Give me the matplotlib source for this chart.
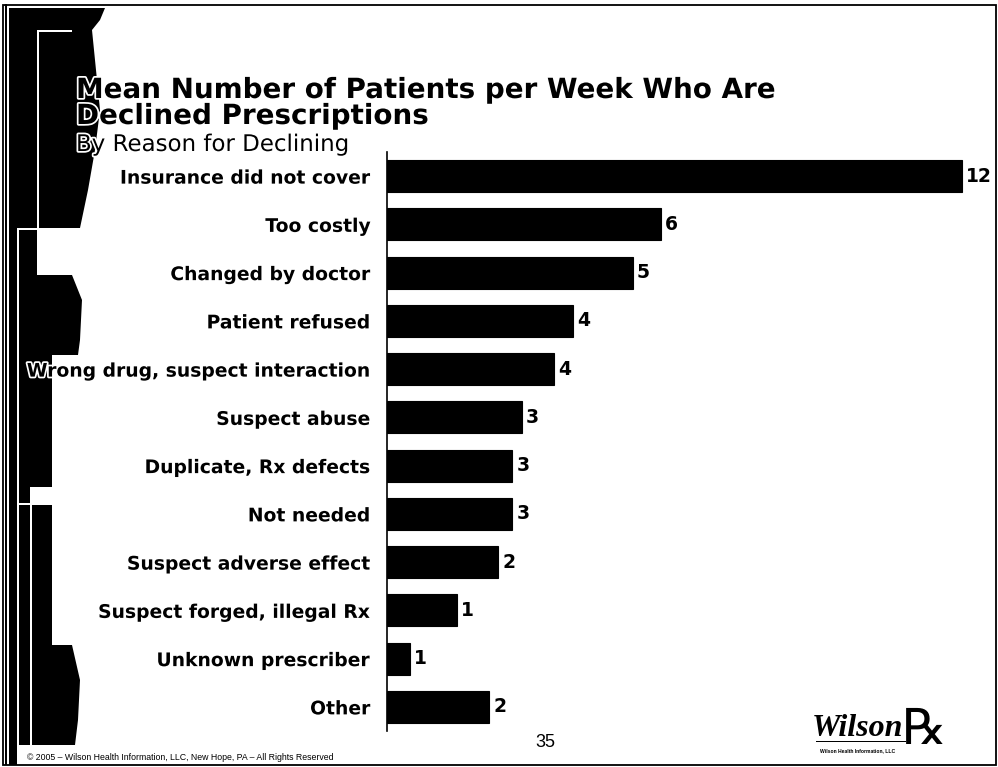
import matplotlib
matplotlib.use("Agg")
import matplotlib.pyplot as plt
from matplotlib.patches import Rectangle, Polygon
import matplotlib.patheffects as pe

categories = ["Insurance did not cover", "Too costly", "Changed by doctor",
              "Patient refused", "Wrong drug, suspect interaction", "Suspect abuse",
              "Duplicate, Rx defects", "Not needed", "Suspect adverse effect",
              "Suspect forged, illegal Rx", "Unknown prescriber", "Other"]
values = [12.4, 5.9, 5.3, 4.0, 3.6, 2.9, 2.7, 2.7, 2.4, 1.5, 0.5, 2.2]
value_labels = ["12", "6", "5", "4", "4", "3", "3", "3", "2", "1", "1", "2"]

W, H = 998, 767
fig = plt.figure(figsize=(W / 100, H / 100), dpi=100)
fig.patch.set_facecolor("white")
FONT = ["DejaVu Sans"]
ARIAL = ["Liberation Sans", "DejaVu Sans"]
halo = [pe.withStroke(linewidth=2.5, foreground="white")]


def px_rect(x0, y0, x1, y1, color="black", **kw):
    fig.add_artist(Rectangle((x0 / W, 1 - y1 / H), (x1 - x0) / W, (y1 - y0) / H,
                             transform=fig.transFigure, facecolor=color,
                             edgecolor="none", zorder=-2 if color == "black" else -1, **kw))


def px_poly(pts, color="black"):
    fig.add_artist(Polygon([(x / W, 1 - y / H) for x, y in pts], closed=True,
                           transform=fig.transFigure, facecolor=color, edgecolor="none",
                           zorder=-2))


def px_text(x, y, s, **kw):
    return fig.text(x / W, 1 - y / H, s, **kw)


# outer frame
fig.add_artist(Rectangle((3 / W, 2 / H), (W - 5) / W, (H - 7) / H, transform=fig.transFigure,
                         facecolor="none", edgecolor="black", linewidth=1.3, zorder=-1))
px_rect(5, 4, 7, 765)
# left decorative band
px_rect(9, 8, 17, 765)
px_rect(17, 8, 37, 230)
px_poly([(37, 8), (105, 8), (100, 20), (92, 30), (95, 60), (100, 110), (95, 150),
         (88, 190), (80, 228), (37, 228)])
px_rect(17, 230, 37, 275)
px_poly([(19, 275), (72, 275), (82, 300), (80, 340), (78, 355), (19, 355)])
px_rect(19, 355, 52, 487)
px_rect(19, 487, 30, 505)
px_rect(19, 505, 52, 645)
px_poly([(19, 645), (72, 645), (80, 680), (78, 720), (75, 745), (19, 745)])
# thin white frame lines inside the band
px_rect(37, 30, 39, 228, color="white")
px_rect(37, 30, 72, 32, color="white")
px_rect(17, 228, 39, 230, color="white")
px_rect(17, 230, 19, 505, color="white")
px_rect(30, 487, 52, 505, color="white")
px_rect(30, 505, 32, 745, color="white")
px_rect(17, 503, 32, 505, color="white")

# titles
px_text(76, 98, "Mean Number of Patients per Week Who Are", fontsize=20,
        fontweight="bold", family=FONT, va="baseline", ha="left", path_effects=halo)
px_text(76, 124, "Declined Prescriptions", fontsize=20,
        fontweight="bold", family=FONT, va="baseline", ha="left", path_effects=halo)
px_text(76, 151, "By Reason for Declining", fontsize=16.5,
        family=FONT, va="baseline", ha="left", path_effects=halo)

# bar chart axes
ax = fig.add_axes([387 / W, 1 - 731 / H, (990 - 387) / W, (731 - 152) / H])
ax.patch.set_alpha(0)
y = list(range(len(categories)))
ax.barh(y, values, height=0.66, color="black", edgecolor="black", linewidth=0.8)
ax.set_ylim(len(categories) - 0.5, -0.5)
ax.set_xlim(0, 13)
ax.set_yticks(y)
ax.set_yticklabels(categories, fontsize=13.5, fontweight="bold", family=FONT)
for t in ax.get_yticklabels():
    t.set_path_effects(halo)
ax.tick_params(axis="y", length=0, pad=12)
ax.set_xticks([])
for s in ["top", "right", "bottom"]:
    ax.spines[s].set_visible(False)
ax.spines["left"].set_linewidth(1.2)
for yi, v, lab in zip(y, values, value_labels):
    ax.text(v + 0.09, yi, lab, va="center", ha="left", fontsize=13.5,
            fontweight="bold", family=FONT)

# footer
px_text(27, 760, "\u00a9 2005 \u2013 Wilson Health Information, LLC, New Hope, PA \u2013 All Rights Reserved",
        fontsize=6.3, family=ARIAL, va="baseline", ha="left")
px_text(545, 747, "35", fontsize=13, family=ARIAL, va="baseline", ha="center")

# logo
px_text(812, 736, "Wilson", fontsize=23, family=["Liberation Serif", "DejaVu Serif"],
        style="italic", fontweight="bold", va="baseline", ha="left")
px_text(902, 744, "\u211e", fontsize=36, family=["DejaVu Serif", "DejaVu Sans"],
        va="baseline", ha="left")
fig.add_artist(Rectangle((816 / W, 1 - 742 / H), 90 / W, 1.5 / H, transform=fig.transFigure,
                         facecolor="black", edgecolor="none"))
px_text(820, 752, "Wilson Health Information, LLC", fontsize=3.6, fontweight="bold",
        family=ARIAL, va="baseline", ha="left")

fig.savefig("out.png", dpi=100)
